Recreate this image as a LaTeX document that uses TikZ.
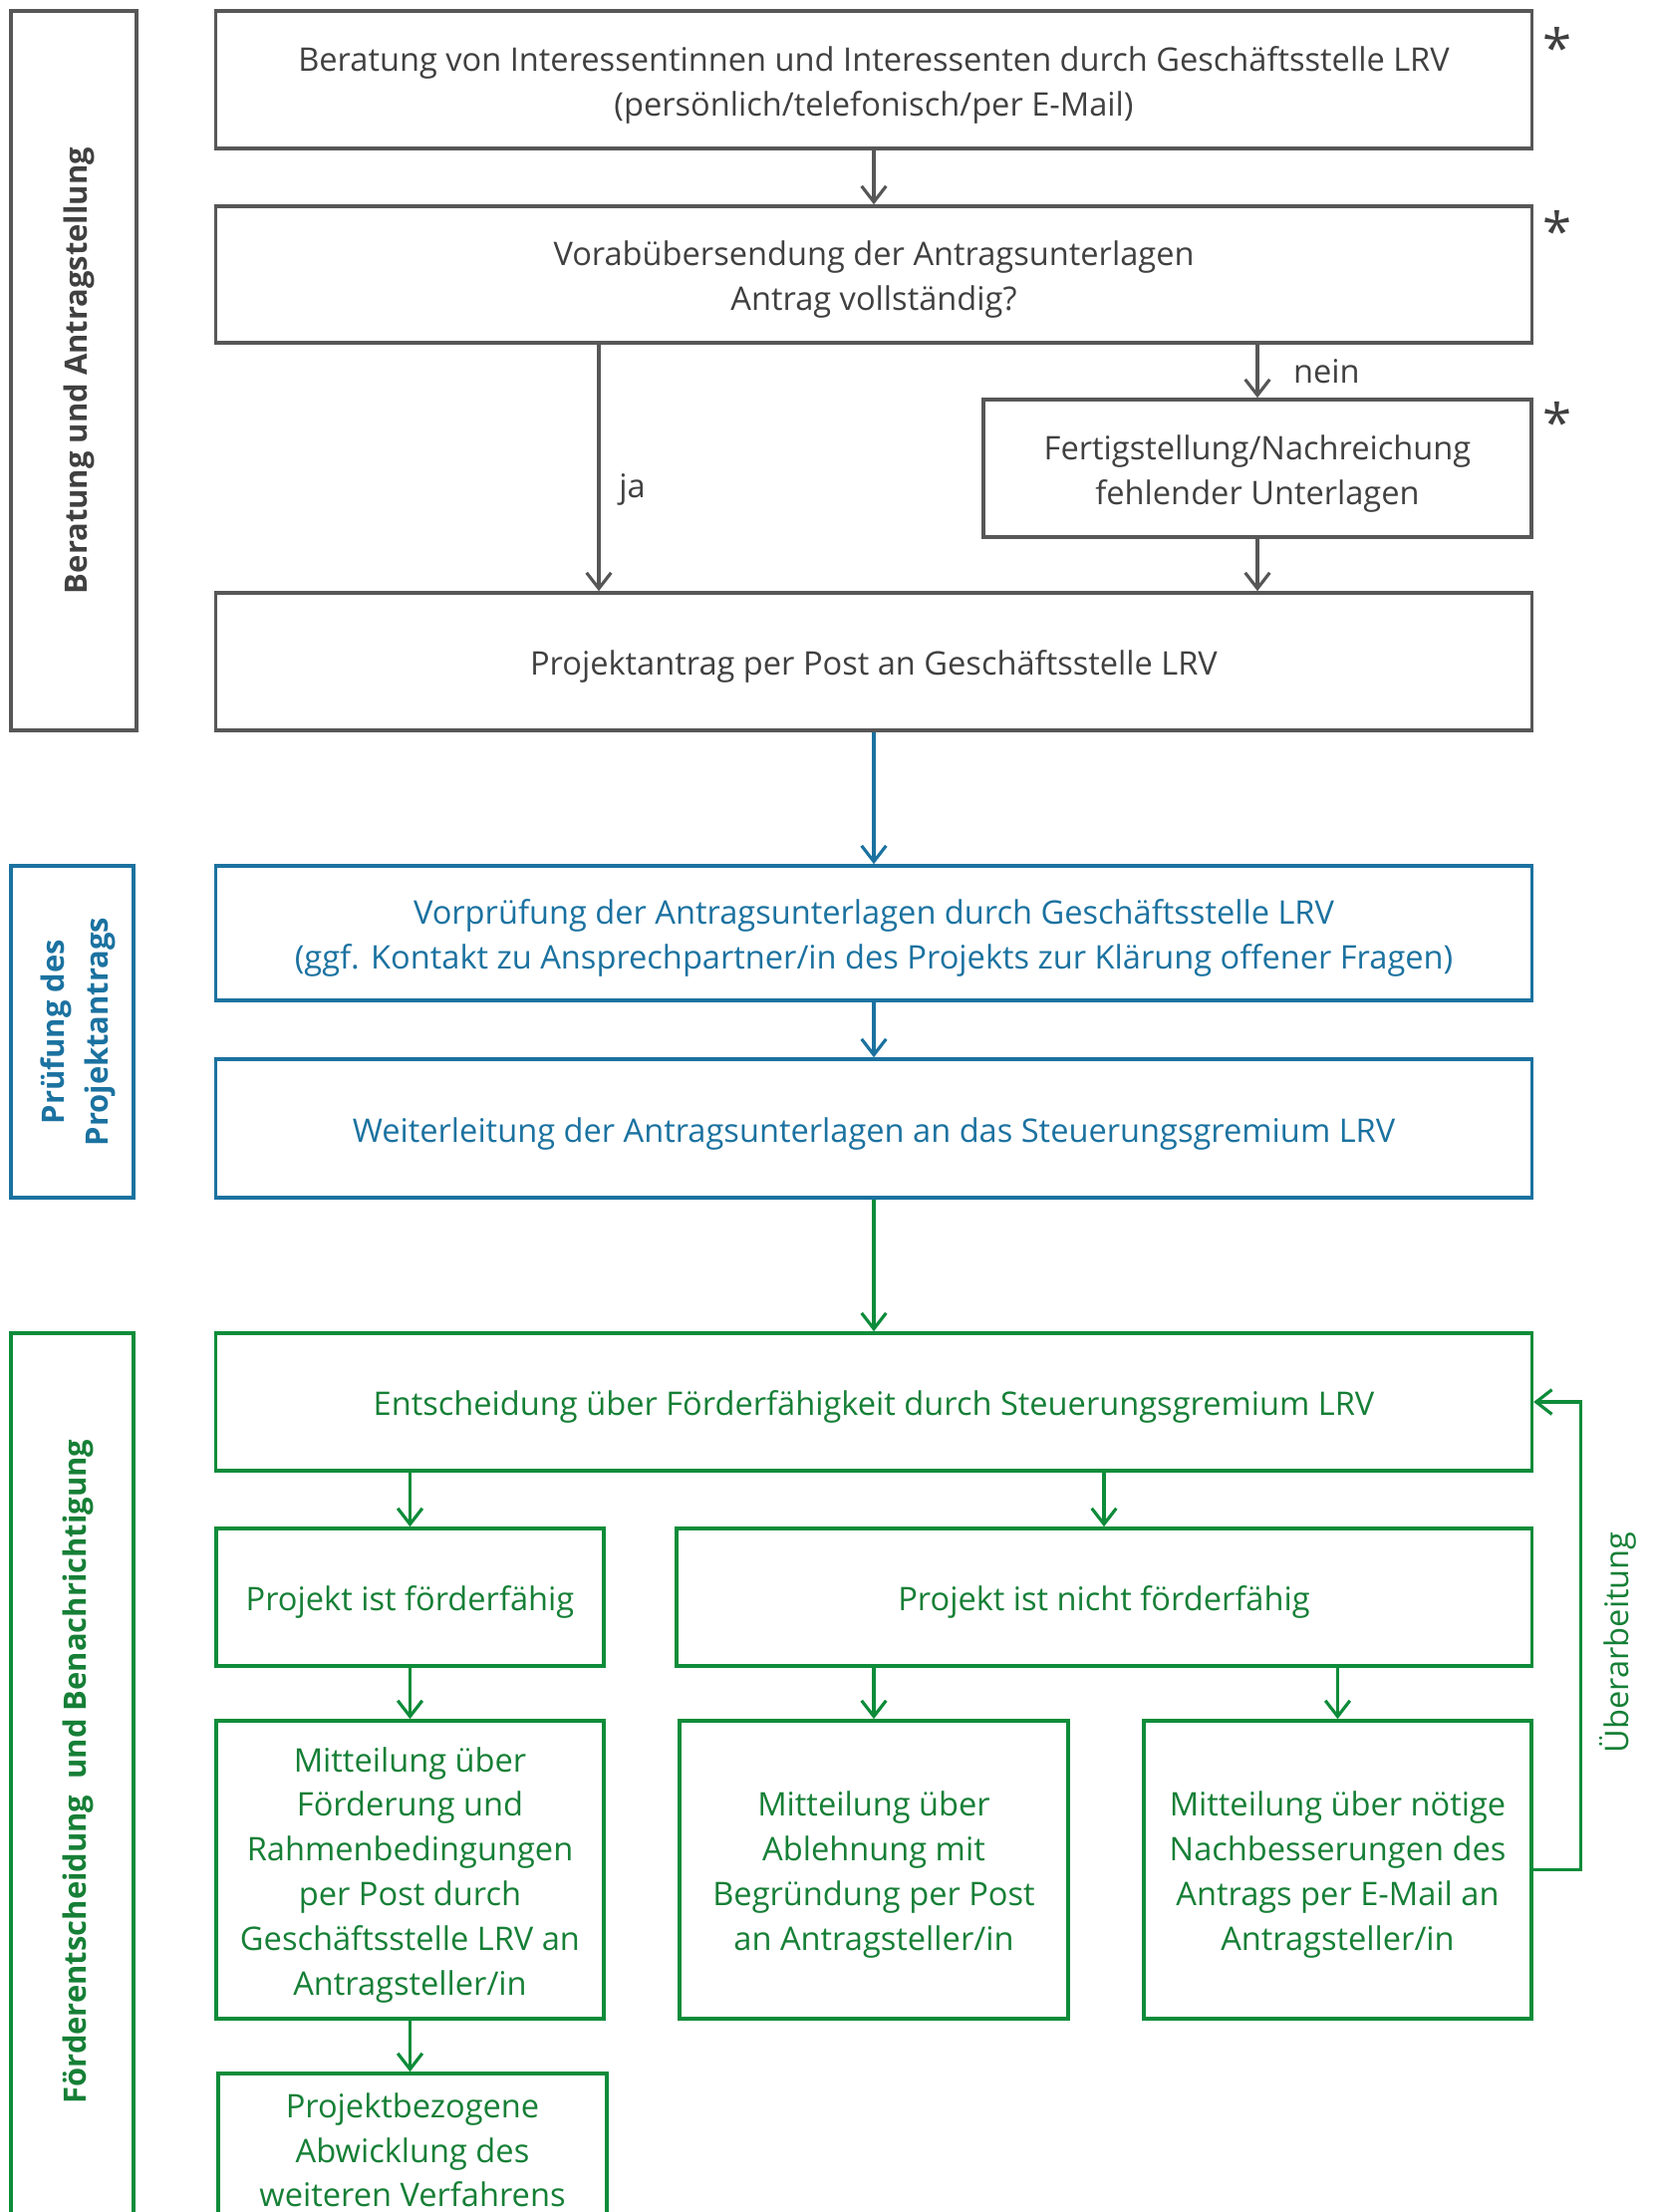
\documentclass[tikz,border=0pt]{standalone}
\usepackage{fontspec}
\setmainfont{Open Sans}
\usetikzlibrary{arrows.meta,calc}
\definecolor{grau}{HTML}{575757}
\definecolor{graut}{HTML}{404040}
\definecolor{blau}{HTML}{1B72A0}
\definecolor{gruen}{HTML}{0E8C3A}
\definecolor{gruent}{HTML}{167F36}
\newcommand{\zs}{\rule[-2pt]{0pt}{12pt}}

\begin{document}
\begin{tikzpicture}[x=0.01cm,y=-0.01cm,
  font=\fontsize{9.27}{12.75}\selectfont,
  kasten/.style={draw,line width=1pt,align=center,inner sep=2pt},
  grbox/.style={kasten,draw=grau,text=graut},
  blbox/.style={kasten,draw=blau,text=blau},
  gnbox/.style={kasten,draw=gruen,text=gruent},
  seite/.style={rotate=90,font=\fontsize{8.8}{12.6}\selectfont\bfseries},
  pfeil/.style={line width=0.9pt,-{Straight Barb[length=4.5pt,width=7pt]}},
  stern/.style={text=graut,font=\fontsize{15}{15}\selectfont,inner sep=0pt,anchor=north}]

\useasboundingbox (0,0) rectangle (1659,2220);
\clip (0,0) rectangle (1659,2220);

% Beratung und Antragstellung
\node[grbox,seite,minimum width=7.22cm,minimum height=1.26cm] (phase1) at (74,372) {\zs Beratung und Antragstellung\zs};
\node[grbox,minimum width=13.2cm,minimum height=1.38cm] (berat) at (877,80) {\zs Beratung von Interessentinnen und Interessenten durch Geschäftsstelle LRV\\(persönlich/telefonisch/per E-Mail)\zs};
\node[grbox,minimum width=13.2cm,minimum height=1.37cm] (vorab) at (877,275.5) {\zs Vorabübersendung der Antragsunterlagen\\Antrag vollständig?\zs};
\node[grbox,minimum width=5.5cm,minimum height=1.38cm] (fertig) at (1262,470) {\zs Fertigstellung/Nachreichung\\fehlender Unterlagen\zs};
\node[grbox,minimum width=13.2cm,minimum height=1.38cm] (antrag) at (877,664) {\zs Projektantrag per Post an Geschäftsstelle LRV\zs};
\node[stern] (st1) at ($(berat.north east)+(24,18)$) {*};
\node[stern] (st2) at ($(vorab.north east)+(24,6)$) {*};
\node[stern] (st3) at ($(fertig.north east)+(24,4)$) {*};

% Pruefung
\node[blbox,seite,minimum width=3.33cm,minimum height=1.23cm] (phase2) at (72.5,1035.5) {\zs Prüfung des\\Projektantrags\zs};
\node[blbox,minimum width=13.2cm,minimum height=1.35cm] (vorpr) at (877,936.5) {\zs Vorprüfung der Antragsunterlagen durch Geschäftsstelle LRV\\(ggf. Kontakt zu Ansprechpartner/in des Projekts zur Klärung offener Fragen)\zs};
\node[blbox,minimum width=13.2cm,minimum height=1.39cm] (weiter) at (877,1132.5) {\zs Weiterleitung der Antragsunterlagen an das Steuerungsgremium LRV\zs};

% Foerderentscheidung
\node[gnbox,seite,minimum width=9.02cm,minimum height=1.23cm] (phase3) at (72.5,1789) {};
\node[seite,text=gruent] (phase3txt) at (72.5,1778) {\zs Förderentscheidung\ \ und Benachrichtigung\zs};
\node[gnbox,minimum width=13.2cm,minimum height=1.38cm] (entsch) at (877,1407) {\zs Entscheidung über Förderfähigkeit durch Steuerungsgremium LRV\zs};
\node[gnbox,minimum width=3.89cm,minimum height=1.38cm] (ff) at (411.5,1603) {\zs Projekt ist förderfähig\zs};
\node[gnbox,minimum width=8.58cm,minimum height=1.38cm] (nff) at (1108,1603) {\zs Projekt ist nicht förderfähig\zs};
\node[gnbox,minimum width=3.89cm,minimum height=2.99cm] (m1) at (411.5,1876.5) {\zs Mitteilung über\\Förderung und\\Rahmenbedingungen\\per Post durch\\Geschäftsstelle LRV an\\Antragsteller/in\zs};
\node[gnbox,minimum width=3.9cm,minimum height=2.99cm] (m2) at (877,1876.5) {\zs Mitteilung über\\Ablehnung mit\\Begründung per Post\\an Antragsteller/in\zs};
\node[gnbox,minimum width=3.89cm,minimum height=2.99cm] (m3) at (1342.5,1876.5) {\zs Mitteilung über nötige\\Nachbesserungen des\\Antrags per E-Mail an\\Antragsteller/in\zs};
\node[gnbox,minimum width=3.9cm,minimum height=1.5cm] (proj) at (414,2156) {\zs Projektbezogene\\Abwicklung des\\weiteren Verfahrens\zs};

\coordinate (ja) at (601,0);
\draw[pfeil,grau] (berat) -- (vorab);
\draw[pfeil,grau] (vorab.south -| ja) -- node[right=2pt,pos=0.59,text=graut] {ja} (antrag.north -| ja);
\draw[pfeil,grau] (vorab.south -| fertig) -- node[right=6.5pt,text=graut] {nein} (fertig);
\draw[pfeil,grau] (fertig.south) -- (fertig.south |- antrag.north);
\draw[pfeil,blau] (antrag) -- (vorpr);
\draw[pfeil,blau] (vorpr) -- (weiter);
\draw[pfeil,gruen] (weiter) -- (entsch);
\draw[pfeil,gruen] (entsch.south -| ff) -- (ff);
\draw[pfeil,gruen] (entsch.south -| nff) -- (nff);
\draw[pfeil,gruen] (ff) -- (m1);
\draw[pfeil,gruen] (nff.south -| m2) -- (m2);
\draw[pfeil,gruen] (nff.south -| m3) -- (m3);
\draw[pfeil,gruen] (m1.south) -- (m1.south |- proj.north);
\draw[pfeil,gruen] (m3.east) -- ++(48,0) |- node[pos=0.243,anchor=north,rotate=90,text=gruent,inner sep=4.8pt] {Überarbeitung} (entsch.east);

\end{tikzpicture}
\end{document}
